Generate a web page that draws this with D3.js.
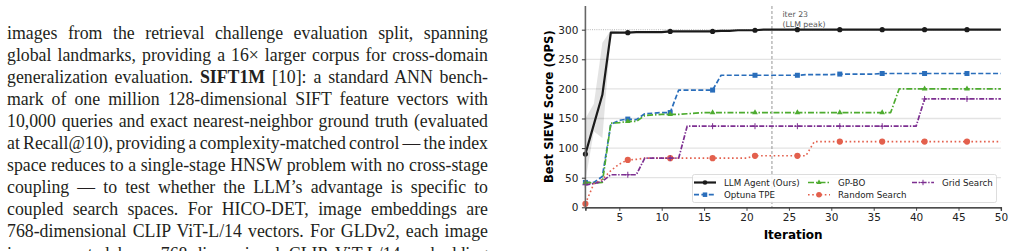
<!DOCTYPE html>
<html>
<head>
<meta charset="utf-8" />
<title>SIEVE score vs iteration</title>
<script src="https://cdn.jsdelivr.net/npm/d3@7/dist/d3.min.js"></script>
<style>
html, body { margin:0; padding:0; background:#fff; }
svg { display:block; }
</style>
</head>
<body>
<script>
// ---- data ----
var iters = d3.range(1, 51);
var xTicks = [5, 10, 15, 20, 25, 30, 35, 40, 45, 50];
var yTicks = [0, 50, 100, 150, 200, 250, 300];

var llmAgent = [90,140,190,295,295,295,296,296,296,296,
  297,297,297,297,297,297,298,298,299,299,
  299,300,300,300,300,300,300,300,300,300,
  300,300,300,300,300,300,300,300,300,300,
  300,300,300,300,300,300,300,300,300,300];
var optunaTpe = [42,42,52,140,147,149,148,158,159,160,
  160,198,198,198,198,198,223,223,223,223,
  223,223,223,223,223,223,224,224,224,224,
  225,225,225,225,225,226,226,226,226,226,
  226,226,226,226,226,226,226,226,226,226];
var gpBo = [42,41,42,142,143,145,145,155,156,157,
  157,157,158,159,160,160,160,160,160,160,
  160,160,160,160,160,160,160,160,160,160,
  160,160,160,160,160,160,160,200,200,200,
  200,200,200,200,200,200,200,200,200,200];
var randomSearch = [6,40,47,62,73,80,81,83,83,83,
  83,83,83,83,83,83,83,83,83,83,
  87,87,87,87,87,87,87,111,111,111,
  111,111,111,111,111,111,111,111,111,111,
  111,111,111,111,111,111,111,111,111,111];
var gridSearch = [38,40,44,55,55,55,55,83,83,83,
  83,83,137,137,137,137,137,137,137,137,
  137,137,137,137,137,137,137,137,137,137,
  137,137,137,137,137,137,137,137,137,137,
  183,183,183,183,183,183,183,183,183,183];

// spread across seeds for the LLM agent (only visible early on)
var bandIters = [1, 2, 3, 4, 5];
var bandLo = [45, 128, 117, 292, 294];
var bandHi = [150, 175, 278, 299, 297];

var peakIter = 23;

var textLines = [
  ["images from the retrieval challenge evaluation split, spanning"],
  ["global landmarks, providing a 16\u00d7 larger corpus for cross-domain"],
  ["generalization evaluation. ", "SIFT1M", " [10]: a standard ANN bench-"],
  ["mark of one million 128-dimensional SIFT feature vectors with"],
  ["10,000 queries and exact nearest-neighbor ground truth (evaluated"],
  ["at Recall@10), providing a complexity-matched control \u2014 the index"],
  ["space reduces to a single-stage HNSW problem with no cross-stage"],
  ["coupling \u2014 to test whether the LLM\u2019s advantage is specific to"],
  ["coupled search spaces. For HICO-DET, image embeddings are"],
  ["768-dimensional CLIP ViT-L/14 vectors. For GLDv2, each image"],
  ["is represented by a 768-dimensional CLIP ViT-L/14 embedding"]
];

var series = [
  {name:"Optuna TPE", vals:optunaTpe, color:"#2a6ebb", dash:"5,2.4", width:1.7, marker:"square"},
  {name:"GP-BO", vals:gpBo, color:"#4dab2f", dash:"6,2,1.5,2", width:1.7, marker:"triangle"},
  {name:"Random Search", vals:randomSearch, color:"#e3604d", dash:"1.6,2.6", width:1.6, marker:"circle"},
  {name:"Grid Search", vals:gridSearch, color:"#7d2f91", dash:"5,1.6,1.4,1.6", width:1.7, marker:"plus"},
  {name:"LLM Agent (Ours)", vals:llmAgent, color:"#1b1b1b", dash:null, width:2.2, marker:"dot"}
];
var legendOrder = ["LLM Agent (Ours)", "Optuna TPE", "GP-BO", "Random Search", "Grid Search"];

// ---- page ----
var W = 1014, H = 251;
var svg = d3.select("body").append("svg").attr("width", W).attr("height", H);

// left column of paper text, justified by hand
var textG = svg.append("g")
  .attr("font-family", "'Liberation Serif', 'DejaVu Serif', serif")
  .attr("font-size", 17.8)
  .attr("fill", "#231f20");
var textLeft = 7, textWidth = 481;
textLines.forEach(function(parts, i){
  var t = textG.append("text").attr("x", textLeft).attr("y", 38.7 + i * 22.08);
  parts.forEach(function(p){
    t.append("tspan").attr("font-weight", p == "SIFT1M" ? "bold" : null).text(p);
  });
  var full = parts.join("");
  var gaps = (full.match(/ /g) || []).length;
  var len = t.node().getComputedTextLength();
  if (gaps > 0) t.attr("word-spacing", (textWidth - len) / gaps);
});

// ---- chart ----
var pL = 585.4, pR = 1000.9, pT = 6, pB = 207.3;
var x = d3.scaleLinear().domain([1, 50]).range([pL, pR]);
var y = d3.scaleLinear().domain([0, 340]).range([pB, pT]);

var chart = svg.append("g").attr("font-family", "'DejaVu Sans', sans-serif");

// grid
chart.append("g").selectAll("line")
  .data(yTicks.filter(function(d){ return d > 0 && d < 300; }))
  .join("line")
  .attr("x1", pL).attr("x2", pR)
  .attr("y1", function(d){ return y(d); }).attr("y2", function(d){ return y(d); })
  .attr("stroke", "#e3e3e3").attr("stroke-width", 1.3);
chart.append("line")
  .attr("x1", pL).attr("x2", pR).attr("y1", y(300)).attr("y2", y(300))
  .attr("stroke", "#9a9a9a").attr("stroke-width", 0.7).attr("stroke-dasharray", "1,1.2");

// peak marker
chart.append("line")
  .attr("x1", x(peakIter)).attr("x2", x(peakIter)).attr("y1", pT).attr("y2", pB)
  .attr("stroke", "#8a8a8a").attr("stroke-width", 0.9).attr("stroke-dasharray", "3,2");
var ann = chart.append("text").attr("font-size", 7.8).attr("fill", "#555");
ann.append("tspan").attr("x", x(peakIter) + 10.5).attr("y", 16.9).text("iter " + peakIter);
ann.append("tspan").attr("x", x(peakIter) + 10.5).attr("y", 26.5).text("(LLM peak)");

// band
var area = d3.area()
  .x(function(d, i){ return x(bandIters[i]); })
  .y0(function(d, i){ return y(bandLo[i]); })
  .y1(function(d, i){ return y(bandHi[i]); });
chart.append("path").datum(bandIters).attr("d", area)
  .attr("fill", "#000").attr("fill-opacity", 0.11);

// markers
function drawMarker(g, kind, color, cx, cy, scale) {
  scale = scale || 1;
  if (kind == "dot") {
    g.append("circle").attr("cx", cx).attr("cy", cy).attr("r", 2.6 * scale).attr("fill", color);
  } else if (kind == "circle") {
    g.append("circle").attr("cx", cx).attr("cy", cy).attr("r", 3.1 * scale).attr("fill", color);
  } else if (kind == "square") {
    var s = 5 * scale;
    g.append("rect").attr("x", cx - s/2).attr("y", cy - s/2).attr("width", s).attr("height", s).attr("fill", color);
  } else if (kind == "triangle") {
    g.append("path").attr("d", d3.symbol(d3.symbolTriangle, 14 * scale * scale)()).attr("transform", "translate(" + cx + "," + cy + ")").attr("fill", color);
  } else if (kind == "plus") {
    var p = 3 * scale;
    g.append("path").attr("d", "M" + (cx - p) + "," + cy + "H" + (cx + p) + "M" + cx + "," + (cy - p) + "V" + (cy + p))
      .attr("stroke", color).attr("stroke-width", 1);
  }
}

var line = d3.line().x(function(d, i){ return x(iters[i]); }).y(function(d){ return y(d); });
series.forEach(function(s){
  var g = chart.append("g");
  g.append("path").datum(s.vals).attr("d", line)
    .attr("fill", "none").attr("stroke", s.color).attr("stroke-width", s.width)
    .attr("stroke-dasharray", s.dash).attr("stroke-linejoin", "round");
  s.vals.forEach(function(v, i){
    if (i % 5 == 0) drawMarker(g, s.marker, s.color, x(iters[i]), y(v));
  });
});

// axes
var xAxis = chart.append("g").attr("transform", "translate(0," + pB + ")")
  .call(d3.axisBottom(x).tickValues(xTicks).tickSize(3.5).tickPadding(3));
xAxis.select(".domain").attr("stroke", "#111").attr("stroke-width", 1.3);
xAxis.selectAll(".tick line").attr("stroke", "#444");
xAxis.selectAll("text").attr("font-size", 10.5).attr("fill", "#222").attr("font-family", "'DejaVu Sans', sans-serif");

var yAxis = chart.append("g").attr("transform", "translate(" + pL + ",0)")
  .call(d3.axisLeft(y).tickValues(yTicks).tickSize(3.5).tickPadding(3.5));
yAxis.select(".domain").attr("d", "M0," + pB + "V" + pT).attr("stroke", "#666").attr("stroke-width", 1.6);
yAxis.selectAll(".tick line").attr("stroke", "#333");
yAxis.selectAll("text").attr("font-size", 10.5).attr("fill", "#222").attr("font-family", "'DejaVu Sans', sans-serif");

chart.append("text").attr("x", (pL + pR) / 2).attr("y", 238.5)
  .attr("text-anchor", "middle").attr("font-weight", "bold").attr("font-size", 12).text("Iteration");
chart.append("text").attr("transform", "translate(552.5," + ((pT + pB) / 2) + ") rotate(-90)")
  .attr("text-anchor", "middle").attr("font-weight", "bold").attr("font-size", 11.6).text("Best SIEVE Score (QPS)");

// legend (3 columns, filled column-wise)
var leg = chart.append("g");
leg.append("rect").attr("x", 692.5).attr("y", 174.5).attr("width", 304).attr("height", 28)
  .attr("rx", 2).attr("fill", "#fff").attr("fill-opacity", 0.85).attr("stroke", "#d4d4d4").attr("stroke-width", 0.8);
var colX = [694, 808, 912], rowY = [182.5, 194.7];
legendOrder.forEach(function(name, k){
  var s = series.find(function(d){ return d.name == name; });
  var cx = colX[Math.floor(k / 2)], cy = rowY[k % 2];
  leg.append("line").attr("x1", cx).attr("x2", cx + 22).attr("y1", cy).attr("y2", cy)
    .attr("stroke", s.color).attr("stroke-width", s.width).attr("stroke-dasharray", s.dash);
  drawMarker(leg, s.marker, s.color, cx + 11, cy, 0.9);
  leg.append("text").attr("x", cx + 30).attr("y", cy + 3.1).attr("font-size", 8.7).attr("fill", "#222").text(name);
});
</script>
</body>
</html>
